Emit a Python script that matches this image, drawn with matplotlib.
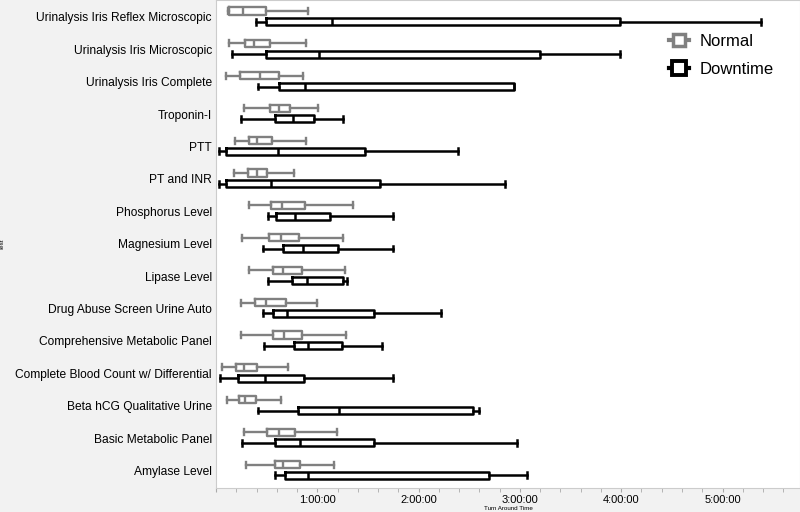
import matplotlib
matplotlib.use("Agg")
import matplotlib.pyplot as plt
from matplotlib.lines import Line2D
from matplotlib.ticker import MultipleLocator, FuncFormatter

plt.rcParams['font.family'] = ['Liberation Sans', 'DejaVu Sans']

# tests, top to bottom
tests = [
    "Urinalysis Iris Reflex Microscopic",
    "Urinalysis Iris Microscopic",
    "Urinalysis Iris Complete",
    "Troponin-I",
    "PTT",
    "PT and INR",
    "Phosphorus Level",
    "Magnesium Level",
    "Lipase Level",
    "Drug Abuse Screen Urine Auto",
    "Comprehensive Metabolic Panel",
    "Complete Blood Count w/ Differential",
    "Beta hCG Qualitative Urine",
    "Basic Metabolic Panel",
    "Amylase Level",
]

# turn around time in minutes: whisker low, q1, median, q3, whisker high
normal_lo  = [7.1, 7.5, 6.1, 16.4, 11.4, 10.5, 19.7, 15.4, 19.5, 14.6, 14.6, 3.4, 6.3, 16.4, 17.8]
normal_q1  = [7.7, 17.4, 14.4, 32.0, 19.4, 19.1, 32.4, 31.2, 33.8, 22.9, 33.8, 11.7, 13.4, 30.0, 34.8]
normal_med = [16.0, 22.7, 25.9, 37.5, 24.5, 24.3, 39.3, 38.5, 39.9, 29.4, 40.5, 16.8, 17.4, 37.1, 39.5]
normal_q3  = [29.6, 32.0, 37.5, 43.7, 33.2, 30.2, 52.7, 49.0, 51.1, 41.6, 51.1, 24.1, 23.7, 47.0, 49.9]
normal_hi  = [54.5, 53.3, 51.7, 60.2, 53.3, 46.0, 81.0, 75.0, 76.2, 60.0, 77.0, 42.6, 38.5, 71.5, 70.1]

down_lo  = [23.7, 9.7, 24.7, 14.6, 1.8, 1.8, 31.0, 27.8, 31.0, 27.8, 28.4, 2.5, 24.7, 15.2, 34.8]
down_q1  = [29.6, 29.4, 37.5, 34.8, 6.1, 6.1, 35.7, 39.9, 45.0, 33.8, 46.4, 13.2, 48.7, 34.8, 40.9]
down_med = [68.7, 61.0, 52.7, 45.6, 36.7, 32.4, 47.0, 51.5, 53.7, 41.9, 54.5, 29.0, 73.0, 49.9, 54.5]
down_q3  = [239.0, 192.0, 176.7, 58.0, 88.1, 97.1, 67.7, 72.4, 75.2, 93.8, 74.4, 52.1, 152.4, 93.4, 161.7]
down_hi  = [323.0, 239.0, 176.7, 75.0, 143.2, 171.0, 105.0, 105.0, 77.8, 133.1, 98.1, 105.0, 155.9, 178.1, 184.0]


def make_stats(lo, q1, med, q3, hi):
    return [dict(whislo=a, q1=b, med=c, q3=d, whishi=e, fliers=[])
            for a, b, c, d, e in zip(lo, q1, med, q3, hi)]


fig = plt.figure(figsize=(8, 5.12), dpi=100)
fig.patch.set_facecolor('#f2f2f2')
ax = fig.add_axes([0.27, 0.047, 0.73, 0.953])
ax.set_facecolor('white')

rows = list(range(len(tests)))
gray = '#808080'

def draw(stats, pos, color, lw):
    props = dict(color=color, linewidth=lw)
    ax.bxp(stats, positions=pos, orientation='horizontal', widths=0.22,
           capwidths=0.18, showfliers=False,
           boxprops=props, medianprops=props, whiskerprops=props, capprops=props)

draw(make_stats(normal_lo, normal_q1, normal_med, normal_q3, normal_hi),
     [r - 0.18 for r in rows], gray, 1.7)
draw(make_stats(down_lo, down_q1, down_med, down_q3, down_hi),
     [r + 0.15 for r in rows], 'black', 1.8)

ax.set_ylim(14.54, -0.52)
ax.set_yticks(rows)
ax.set_yticklabels(tests, fontsize=8.65)
ax.tick_params(axis='y', length=0, pad=3)

ax.set_xlim(0, 345.9)
ax.xaxis.set_major_locator(MultipleLocator(60))
ax.xaxis.set_minor_locator(MultipleLocator(12))
ax.xaxis.set_major_formatter(FuncFormatter(
    lambda v, p: '' if v <= 0 else f"{int(v // 60)}:{int(v % 60):02d}:00"))
ax.tick_params(axis='x', which='both', labelsize=8, color='#aaaaaa', length=3, pad=2)

for s in ax.spines.values():
    s.set_color('#cccccc')
    s.set_linewidth(0.8)

ax.set_xlabel('Turn Around Time', fontsize=4.5, labelpad=0.5)
ax.set_ylabel('Test', fontsize=4.5, labelpad=2)
ax.yaxis.set_label_coords(-0.362, 0.5)

handles = [
    Line2D([], [], color=gray, lw=3, marker='s', markersize=9,
           markerfacecolor='white', markeredgewidth=2.5, label='Normal'),
    Line2D([], [], color='black', lw=3, marker='s', markersize=10,
           markerfacecolor='white', markeredgewidth=2.8, label='Downtime'),
]
ax.legend(handles=handles, loc='upper left', bbox_to_anchor=(0.818, 0.963),
          bbox_transform=fig.transFigure, frameon=False, fontsize=12,
          handlelength=1.2, handletextpad=0.6, labelspacing=0.8)

fig.savefig('out.png', dpi=100, facecolor=fig.get_facecolor())
